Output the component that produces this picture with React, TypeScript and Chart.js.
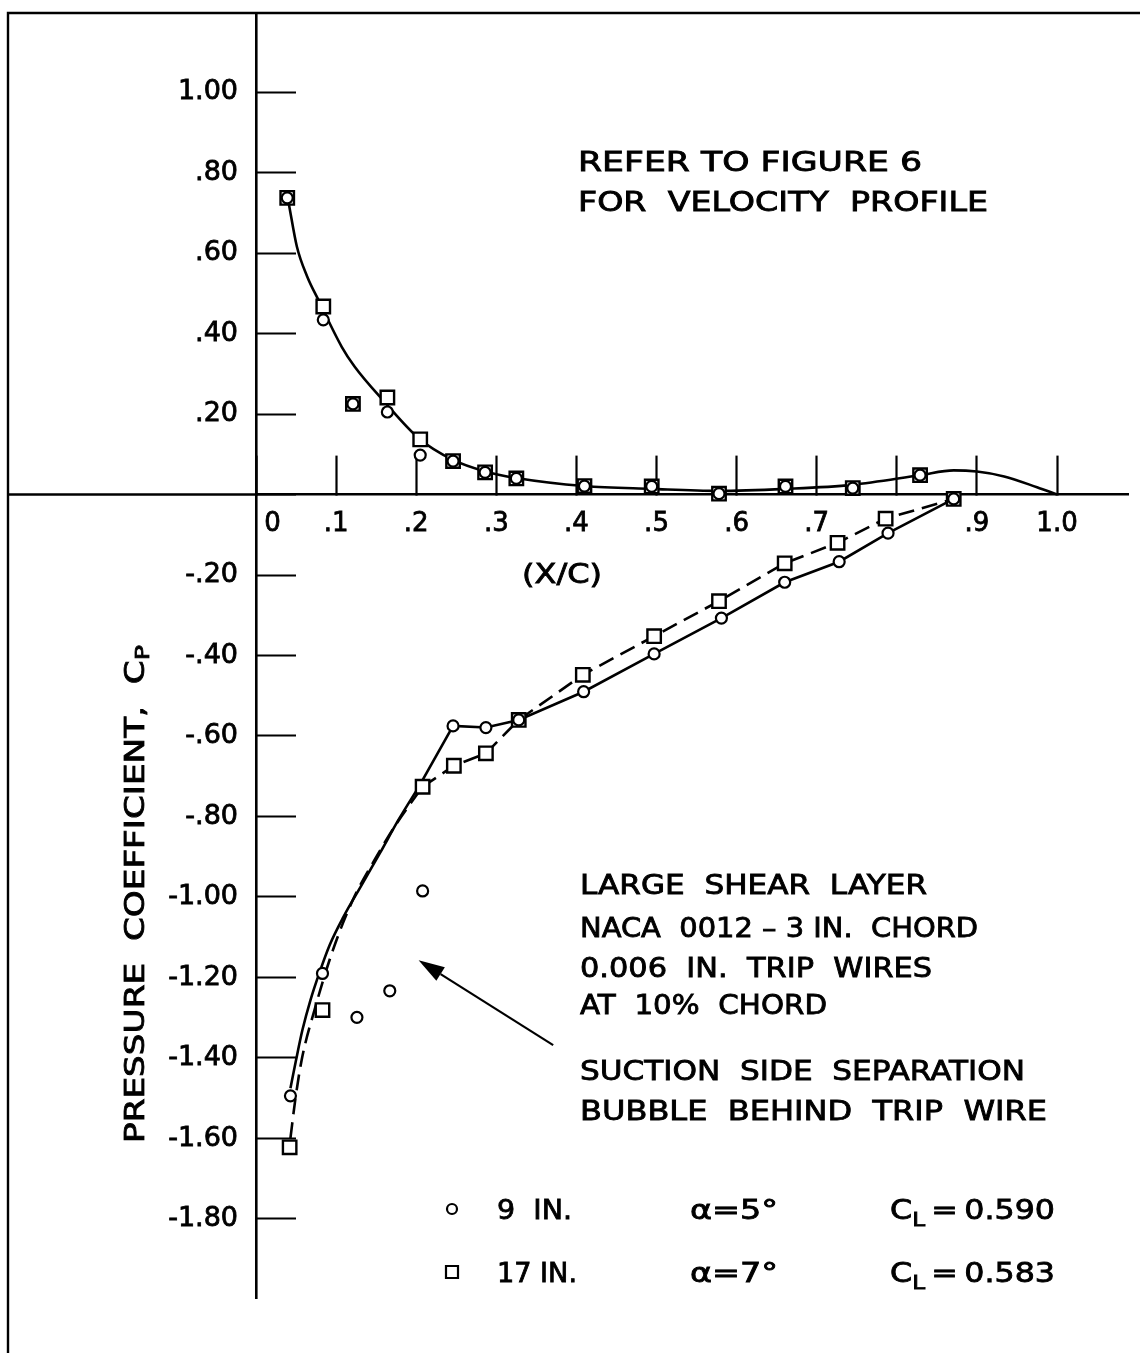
import { useEffect, useRef } from 'react';
import { Chart, registerables } from 'chart.js';

Chart.register(...registerables);

const FONT = "'DejaVu Sans', 'Liberation Sans', sans-serif";

// ---------- axis ticks ----------
const xTickValues = [0, 0.1, 0.2, 0.3, 0.4, 0.5, 0.6, 0.7, 0.8, 0.9, 1.0];
const xTickLabels = ['\u2007\u20070', '.1', '.2', '.3', '.4', '.5', '.6', '.7', '', '.9', '1.0'];
const yTickValues = [-1.8, -1.6, -1.4, -1.2, -1.0, -0.8, -0.6, -0.4, -0.2, 0, 0.2, 0.4, 0.6, 0.8, 1.0];
const yTickLabels = ['-1.80', '-1.60', '-1.40', '-1.20', '-1.00', '-.80', '-.60', '-.40', '-.20', '', '.20', '.40', '.60', '.80', '1.00'];

// ---------- measured points: upper (pressure) side ----------
const upperX = [0.039, 0.084, 0.121, 0.164, 0.205, 0.246, 0.286, 0.325, 0.410, 0.494, 0.578, 0.661, 0.745, 0.829];
const upper9Cp = [0.737, 0.434, 0.225, 0.205, 0.098, 0.083, 0.055, 0.040, 0.021, 0.020, 0.002, 0.020, 0.016, 0.048];
const upper17Cp = [0.737, 0.467, 0.225, 0.241, 0.137, 0.083, 0.055, 0.040, 0.021, 0.020, 0.002, 0.020, 0.016, 0.048];

// ---------- measured points: lower (suction) side ----------
const lower9X = [0.043, 0.083, 0.246, 0.287, 0.328, 0.409, 0.497, 0.581, 0.660, 0.728, 0.789, 0.871];
const lower9Cp = [-1.494, -1.190, -0.575, -0.579, -0.560, -0.490, -0.396, -0.307, -0.218, -0.167, -0.096, -0.011];
const bubble9X = [0.126, 0.167, 0.208];
const bubble9Cp = [-1.299, -1.233, -0.985];
const lower17X = [0.042, 0.083, 0.208, 0.247, 0.287, 0.328, 0.408, 0.497, 0.578, 0.660, 0.726, 0.786, 0.871];
const lower17Cp = [-1.622, -1.281, -0.726, -0.674, -0.643, -0.560, -0.448, -0.352, -0.265, -0.171, -0.120, -0.060, -0.011];

// ---------- faired curves ----------
const upperFairX = [0.041, 0.051, 0.064, 0.078, 0.107, 0.123, 0.160, 0.203, 0.246, 0.285, 0.325, 0.410, 0.493, 0.577, 0.661, 0.744, 0.829, 0.871, 0.900, 0.934, 0.975, 1.000];
const upperFairCp = [0.722, 0.616, 0.541, 0.483, 0.367, 0.318, 0.231, 0.140, 0.086, 0.058, 0.041, 0.021, 0.014, 0.009, 0.014, 0.024, 0.048, 0.060, 0.057, 0.045, 0.018, 0.000];
const solid9FairX = [0.043, 0.050, 0.058, 0.068, 0.079, 0.092, 0.109, 0.132, 0.155, 0.178, 0.203];
const solid9FairCp = [-1.475, -1.405, -1.330, -1.256, -1.189, -1.119, -1.050, -0.970, -0.890, -0.808, -0.727];
const dashed17FairX = [0.043, 0.049, 0.057, 0.073, 0.096, 0.121, 0.148, 0.176, 0.208];
const dashed17FairCp = [-1.599, -1.504, -1.405, -1.281, -1.132, -1.007, -0.908, -0.816, -0.726];

// ---------- legend / notes ----------
const legendRows = [
  { marker: 'circle', span: '9  IN.', alpha: '\u03b1=5\u00b0', cl: '0.590' },
  { marker: 'square', span: '17 IN.', alpha: '\u03b1=7\u00b0', cl: '0.583' },
];
const noteTop = ['REFER TO FIGURE 6', 'FOR  VELOCITY  PROFILE'];
const noteMid = ['LARGE  SHEAR  LAYER', 'NACA  0012 \u2013 3 IN.  CHORD', '0.006  IN.  TRIP  WIRES', 'AT  10%  CHORD'];
const noteBubble = ['SUCTION  SIDE  SEPARATION', 'BUBBLE  BEHIND  TRIP  WIRE'];

const pts = (xs: number[], ys: number[]) => xs.map((x, i) => ({ x, y: ys[i] }));
const labelFor = (vals: number[], labels: string[], v: number) => {
  const i = vals.findIndex((t) => Math.abs(t - v) < 1e-9);
  return i >= 0 ? labels[i] : '';
};

function fitText(ctx: CanvasRenderingContext2D, text: string, x: number, y: number, width: number, size: number) {
  ctx.font = `${size}px ${FONT}`;
  const w = ctx.measureText(text).width;
  const k = width / w;
  ctx.save();
  ctx.translate(x, y);
  ctx.scale(k, 1);
  ctx.textAlign = 'left';
  ctx.textBaseline = 'alphabetic';
  ctx.lineWidth = 0.8;
  ctx.strokeStyle = '#000';
  ctx.fillText(text, 0, 0);
  ctx.strokeText(text, 0, 0);
  ctx.restore();
}

type Part = { t: string; size: number; dy: number };
function richText(ctx: CanvasRenderingContext2D, parts: Part[], x: number, y: number, width: number) {
  let total = 0;
  const ws = parts.map((p) => {
    ctx.font = `${p.size}px ${FONT}`;
    const w = ctx.measureText(p.t).width;
    total += w;
    return w;
  });
  const k = width / total;
  ctx.save();
  ctx.translate(x, y);
  ctx.scale(k, 1);
  ctx.textAlign = 'left';
  ctx.textBaseline = 'alphabetic';
  ctx.lineWidth = 0.8;
  ctx.strokeStyle = '#000';
  let cx = 0;
  parts.forEach((p, i) => {
    ctx.font = `${p.size}px ${FONT}`;
    ctx.fillText(p.t, cx, p.dy);
    ctx.strokeText(p.t, cx, p.dy);
    cx += ws[i];
  });
  ctx.restore();
}

const overlay = {
  id: 'overlay',
  afterDraw(chart: any) {
    const { ctx, chartArea, scales } = chart;
    const sx = (v: number) => scales.x.getPixelForValue(v);
    const sy = (v: number) => scales.y.getPixelForValue(v);
    ctx.save();
    ctx.strokeStyle = '#000';
    ctx.fillStyle = '#000';
    ctx.lineCap = 'butt';

    // outer frame (left + top)
    ctx.lineWidth = 2.4;
    ctx.beginPath();
    ctx.moveTo(8, chart.height);
    ctx.lineTo(8, chartArea.top);
    ctx.lineTo(chart.width, chartArea.top);
    ctx.stroke();

    // horizontal axis continues to the frame
    ctx.lineWidth = 2.6;
    ctx.beginPath();
    ctx.moveTo(8, sy(0));
    ctx.lineTo(chartArea.left, sy(0));
    ctx.stroke();

    // axis title (X/C)
    fitText(ctx, '(X/C)', 522, 583, 80, 26);

    // y title, rotated, with subscript P
    ctx.save();
    ctx.translate(144, 894);
    ctx.rotate(-Math.PI / 2);
    richText(ctx, [
      { t: 'PRESSURE  COEFFICIENT,  C', size: 27, dy: 0 },
      { t: 'P', size: 20, dy: 5 },
    ], -249, 0, 498);
    ctx.restore();

    // notes
    fitText(ctx, noteTop[0], 578, 171, 344, 26);
    fitText(ctx, noteTop[1], 578, 211, 410, 26);
    const midBase = [894, 937, 977, 1014];
    const midW = [347, 398, 352, 247];
    noteMid.forEach((t, i) => fitText(ctx, t, 580, midBase[i], midW[i], 26));
    fitText(ctx, noteBubble[0], 580, 1080, 445, 26);
    fitText(ctx, noteBubble[1], 580, 1120, 467, 26);

    // arrow to the separation bubble
    const x1 = sx(0.371), y1 = sy(-1.368);
    const x2 = sx(0.203), y2 = sy(-1.157);
    const ang = Math.atan2(y2 - y1, x2 - x1);
    const hl = 26, hw = 8;
    const bx = x2 - hl * Math.cos(ang), by = y2 - hl * Math.sin(ang);
    ctx.lineWidth = 2.2;
    ctx.beginPath();
    ctx.moveTo(x1, y1);
    ctx.lineTo(bx, by);
    ctx.stroke();
    ctx.beginPath();
    ctx.moveTo(x2, y2);
    ctx.lineTo(bx + hw * Math.sin(ang), by - hw * Math.cos(ang));
    ctx.lineTo(bx - hw * Math.sin(ang), by + hw * Math.cos(ang));
    ctx.closePath();
    ctx.fill();

    // legend table
    const rowY = [1219, 1282];
    legendRows.forEach((r, i) => {
      const cy = rowY[i] - 10;
      ctx.lineWidth = 2.2;
      ctx.fillStyle = '#fff';
      ctx.beginPath();
      if (r.marker === 'circle') ctx.arc(452, cy, 5, 0, Math.PI * 2);
      else ctx.rect(446, cy - 6, 12, 12);
      ctx.fill();
      ctx.stroke();
      ctx.fillStyle = '#000';
      fitText(ctx, r.span, 497, rowY[i], i === 0 ? 75 : 80, 26);
      fitText(ctx, r.alpha, 690, rowY[i], 88, 26);
      richText(ctx, [
        { t: 'C', size: 26, dy: 0 },
        { t: 'L', size: 19, dy: 7 },
        { t: '\u2009=\u20090.' + r.cl.slice(2), size: 26, dy: 0 },
      ], 890, rowY[i], 165);
    });
    ctx.restore();
  },
};

const circleMarker = {
  pointStyle: 'circle',
  pointRadius: 5.5,
  pointBorderWidth: 2.2,
  pointBackgroundColor: '#fff',
  pointBorderColor: '#000',
  showLine: false,
};
const squareMarker = {
  pointStyle: 'rect',
  pointRadius: 9.5,
  pointBorderWidth: 2.4,
  pointBackgroundColor: '#fff',
  pointBorderColor: '#000',
  showLine: false,
};
const lineStyle = {
  showLine: true,
  pointRadius: 0,
  borderColor: '#000',
  borderWidth: 2.6,
  fill: false,
};

export default function App() {
  const ref = useRef<HTMLCanvasElement>(null);
  useEffect(() => {
    document.body.style.margin = '0';
    const canvas = ref.current;
    if (!canvas) return;
    const chart = new Chart(canvas, {
      type: 'scatter',
      data: {
        datasets: [
          { label: '9 IN. upper', data: pts(upperX, upper9Cp), ...circleMarker },
          { label: '9 IN. lower', data: pts(lower9X, lower9Cp), ...circleMarker },
          { label: '9 IN. separation bubble', data: pts(bubble9X, bubble9Cp), ...circleMarker },
          { label: '17 IN. upper', data: pts(upperX, upper17Cp), ...squareMarker },
          { label: '17 IN. lower', data: pts(lower17X, lower17Cp), ...squareMarker },
          { label: 'upper faired', data: pts(upperFairX, upperFairCp), ...lineStyle, cubicInterpolationMode: 'monotone' },
          { label: '9 IN. faired', data: pts(solid9FairX, solid9FairCp), ...lineStyle, cubicInterpolationMode: 'monotone' },
          {
            label: '9 IN. line',
            data: pts([solid9FairX[solid9FairX.length - 1], ...lower9X.slice(2)], [solid9FairCp[solid9FairCp.length - 1], ...lower9Cp.slice(2)]),
            ...lineStyle,
            tension: 0,
          },
          { label: '17 IN. faired', data: pts(dashed17FairX, dashed17FairCp), ...lineStyle, borderDash: [16, 8], cubicInterpolationMode: 'monotone' },
          { label: '17 IN. line', data: pts(lower17X.slice(2), lower17Cp.slice(2)), ...lineStyle, borderDash: [16, 8], tension: 0 },
        ] as any,
      },
      options: {
        responsive: false,
        animation: false,
        devicePixelRatio: 1,
        events: [],
        layout: { padding: { top: 13, bottom: 55, left: 0, right: 0 } },
        plugins: { legend: { display: false }, tooltip: { enabled: false }, title: { display: false } },
        scales: {
          x: {
            type: 'linear',
            position: { y: 0 } as any,
            min: 0,
            max: 1.0887,
            afterBuildTicks: (s: any) => { s.ticks = xTickValues.map((v) => ({ value: v })); },
            afterFit: (s: any) => { s.paddingLeft = 0; s.paddingRight = 0; s.paddingTop = 0; s.paddingBottom = 0; },
            grid: { display: true, drawOnChartArea: false, drawTicks: true, tickLength: -40, tickWidth: 2.2, tickColor: '#000', color: '#000' },
            border: { display: true, color: '#000', width: 2.6 },
            ticks: {
              color: '#000',
              font: { family: FONT, size: 26, lineHeight: 1.2 },
              textStrokeColor: '#000',
              textStrokeWidth: 0.8,
              padding: 54,
              maxRotation: 0,
              autoSkip: false,
              callback: (v: any) => labelFor(xTickValues, xTickLabels, Number(v)),
            },
          },
          y: {
            type: 'linear',
            position: 'left',
            min: -1.9963,
            max: 1.1963,
            afterBuildTicks: (s: any) => { s.ticks = yTickValues.map((v) => ({ value: v })); },
            afterFit: (s: any) => { s.width = 256; s.paddingTop = 0; s.paddingBottom = 0; s.paddingLeft = 0; s.paddingRight = 0; },
            grid: { display: true, drawOnChartArea: false, drawTicks: true, tickLength: -40, tickWidth: 2.2, tickColor: '#000', color: '#000' },
            border: { display: true, color: '#000', width: 2.6 },
            ticks: {
              color: '#000',
              font: { family: FONT, size: 27, lineHeight: 0.9 },
              textStrokeColor: '#000',
              textStrokeWidth: 0.8,
              padding: 58,
              autoSkip: false,
              callback: (v: any) => labelFor(yTickValues, yTickLabels, Number(v)),
            },
          },
        } as any,
      },
      plugins: [overlay],
    });
    return () => chart.destroy();
  }, []);
  return (
    <div style={{ width: 1140, height: 1353, overflow: 'hidden', background: '#fff' }}>
      <canvas ref={ref} width={1140} height={1353} style={{ display: 'block', width: 1140, height: 1353 }} />
    </div>
  );
}
